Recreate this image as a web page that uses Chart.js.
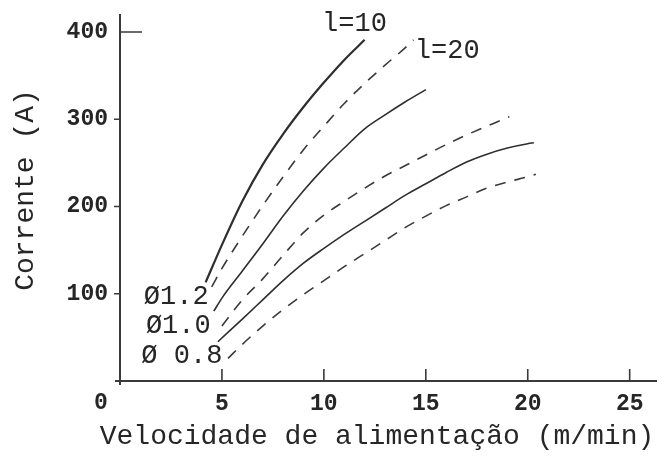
<!DOCTYPE html>
<html>
<head>
<meta charset="utf-8">
<script src="https://cdn.jsdelivr.net/npm/chart.js@4/dist/chart.umd.min.js"></script>
<style>
  html, body { margin: 0; padding: 0; background: #fff; }
</style>
</head>
<body>
<canvas id="chart" width="664" height="458"></canvas>
<script>
// Wire feed speed (m/min) vs welding current (A), per wire diameter and stick-out l.
// l = 10 (solid curves)
const speedL10D12 = [4.2, 5, 6, 7, 8, 9, 10, 11, 12];
const currentL10D12 = [113, 156, 206, 248, 283, 314, 342, 368, 391];
const speedL10D10 = [4.6, 5, 6, 7, 8, 9, 10, 11, 12, 13, 14, 15];
const currentL10D10 = [80, 95, 126, 157, 189, 218, 244, 267, 289, 305, 320, 334];
const speedL10D08 = [4.8, 6, 7, 8, 9, 10, 11, 12, 13, 14, 15, 16, 17, 18, 19, 20, 20.3];
const currentL10D08 = [45, 71, 93, 115, 135, 152, 168, 183, 198, 213, 226, 239, 251, 260, 267, 272, 273];
// l = 20 (dashed curves)
const speedL20D12 = [4.5, 5, 6, 7, 8, 9, 10, 11, 12, 13, 14, 14.4];
const currentL20D12 = [108, 129, 166, 201, 234, 265, 292, 318, 341, 362, 382, 391];
const speedL20D10 = [5, 6, 7, 8, 9, 10, 11, 12, 13, 14, 15, 16, 17, 18, 19.1];
const currentL20D10 = [63, 93, 117, 144, 170, 190, 206, 221, 235, 247, 259, 271, 282, 292, 303];
const speedL20D08 = [5.3, 6, 7, 8, 9, 10, 11, 12, 13, 14, 15, 16, 17, 18, 19, 20, 20.4];
const currentL20D08 = [26, 42, 63, 82, 99, 115, 131, 146, 161, 176, 189, 201, 211, 221, 228, 234, 237];

const xTicks = [5, 10, 15, 20, 25];
const yTicks = [100, 200, 300, 400];
const diameterLabels = ['\u00D81.2', '\u00D81.0', '\u00D8 0.8'];
const lengthLabels = ['l=10', 'l=20'];
const xTitle = 'Velocidade de alimenta\u00E7\u00E3o (m/min)';
const yTitle = 'Corrente (A)';

const FONT = '"Liberation Mono", "DejaVu Sans Mono", monospace';
const INK = '#262626';

const pts = (xs, ys) => xs.map((x, i) => ({ x: x, y: ys[i] }));

function curve(label, xs, ys, dashed, width) {
  return {
    label: label,
    data: pts(xs, ys),
    borderColor: dashed ? '#3a3a3a' : '#2e2e2e',
    borderWidth: width,
    borderDash: dashed ? [11, 9] : [],
    pointRadius: 0,
    fill: false,
    cubicInterpolationMode: 'monotone'
  };
}

// fixed axis box sizes, no extra room for edge labels
function fixBox(size, horizontal) {
  return function (scale) {
    if (horizontal) scale.height = size; else scale.width = size;
    scale.paddingTop = 0; scale.paddingBottom = 0;
    scale.paddingLeft = 0; scale.paddingRight = 0;
  };
}

// axes, tick marks and annotations drawn on top of the plot
const decorations = {
  id: 'decorations',
  afterDraw(chart) {
    const ctx = chart.ctx;
    const xs = chart.scales.x, ys = chart.scales.y;
    const area = chart.chartArea;
    const x0 = xs.getPixelForValue(0);
    const y0 = ys.getPixelForValue(0);
    ctx.save();
    ctx.strokeStyle = '#3a3a3a';
    ctx.lineWidth = 2;
    ctx.lineCap = 'butt';
    ctx.beginPath();
    ctx.moveTo(x0 - 5, y0); ctx.lineTo(area.right, y0);
    ctx.moveTo(x0, area.top); ctx.lineTo(x0, y0 + 4);
    ctx.stroke();

    ctx.lineWidth = 1.6;
    ctx.beginPath();
    xTicks.forEach(v => {
      const p = xs.getPixelForValue(v);
      ctx.moveTo(p, y0); ctx.lineTo(p, y0 - 12);
    });
    yTicks.forEach(v => {
      const p = ys.getPixelForValue(v);
      if (v === 400) { ctx.moveTo(x0, p); ctx.lineTo(x0 + 22, p); }
      else { ctx.moveTo(x0 - 6, p); ctx.lineTo(x0, p); }
    });
    ctx.stroke();

    ctx.fillStyle = INK;
    ctx.textBaseline = 'middle';
    // origin label
    ctx.font = 'bold 23px ' + FONT;
    ctx.textAlign = 'center';
    ctx.fillText('0', x0 - 19, y0 + 22);

    // axis titles
    ctx.font = '28px ' + FONT;
    ctx.fillText(xTitle, 377, 437);
    ctx.save();
    ctx.translate(26, 190);
    ctx.rotate(-Math.PI / 2);
    ctx.fillText(yTitle, 0, 0);
    ctx.restore();

    // stick-out labels
    ctx.font = '27px ' + FONT;
    ctx.fillText(lengthLabels[0], xs.getPixelForValue(11.5), ys.getPixelForValue(409));
    ctx.fillText(lengthLabels[1], xs.getPixelForValue(16.05), ys.getPixelForValue(378));

    // wire diameter labels at the start of each pair of curves
    ctx.font = '27px ' + FONT;
    ctx.textAlign = 'right';
    ctx.fillText(diameterLabels[0], xs.getPixelForValue(4.35), ys.getPixelForValue(96));
    ctx.fillText(diameterLabels[1], xs.getPixelForValue(4.45), ys.getPixelForValue(63));
    ctx.fillText(diameterLabels[2], xs.getPixelForValue(5.02), ys.getPixelForValue(29));
    ctx.restore();
  }
};

new Chart(document.getElementById('chart'), {
  type: 'line',
  data: {
    datasets: [
      curve('\u00D81.2 l=10', speedL10D12, currentL10D12, false, 2.2),
      curve('\u00D81.2 l=20', speedL20D12, currentL20D12, true, 1.6),
      curve('\u00D81.0 l=10', speedL10D10, currentL10D10, false, 1.6),
      curve('\u00D81.0 l=20', speedL20D10, currentL20D10, true, 1.6),
      curve('\u00D80.8 l=10', speedL10D08, currentL10D08, false, 1.6),
      curve('\u00D80.8 l=20', speedL20D08, currentL20D08, true, 1.6)
    ]
  },
  options: {
    responsive: false,
    animation: false,
    layout: { padding: { top: 14, right: 7, left: 0, bottom: 0 } },
    plugins: { legend: { display: false }, tooltip: { enabled: false } },
    scales: {
      x: {
        type: 'linear',
        min: 0,
        max: 26.34,
        grid: { display: false, drawTicks: false },
        border: { display: false },
        ticks: {
          stepSize: 5,
          includeBounds: false,
          padding: 9,
          maxRotation: 0,
          autoSkip: false,
          color: INK,
          font: { family: FONT, size: 23, weight: 'bold' },
          callback: v => (xTicks.includes(v) ? String(v) : '')
        },
        afterFit: fixBox(77, true)
      },
      y: {
        type: 'linear',
        min: 0,
        max: 420.6,
        grid: { display: false, drawTicks: false },
        border: { display: false },
        ticks: {
          stepSize: 100,
          includeBounds: false,
          padding: 12,
          color: INK,
          font: { family: FONT, size: 23, weight: 'bold' },
          callback: v => (yTicks.includes(v) ? String(v) : '')
        },
        afterFit: fixBox(120, false)
      }
    }
  },
  plugins: [decorations]
});
</script>
</body>
</html>
